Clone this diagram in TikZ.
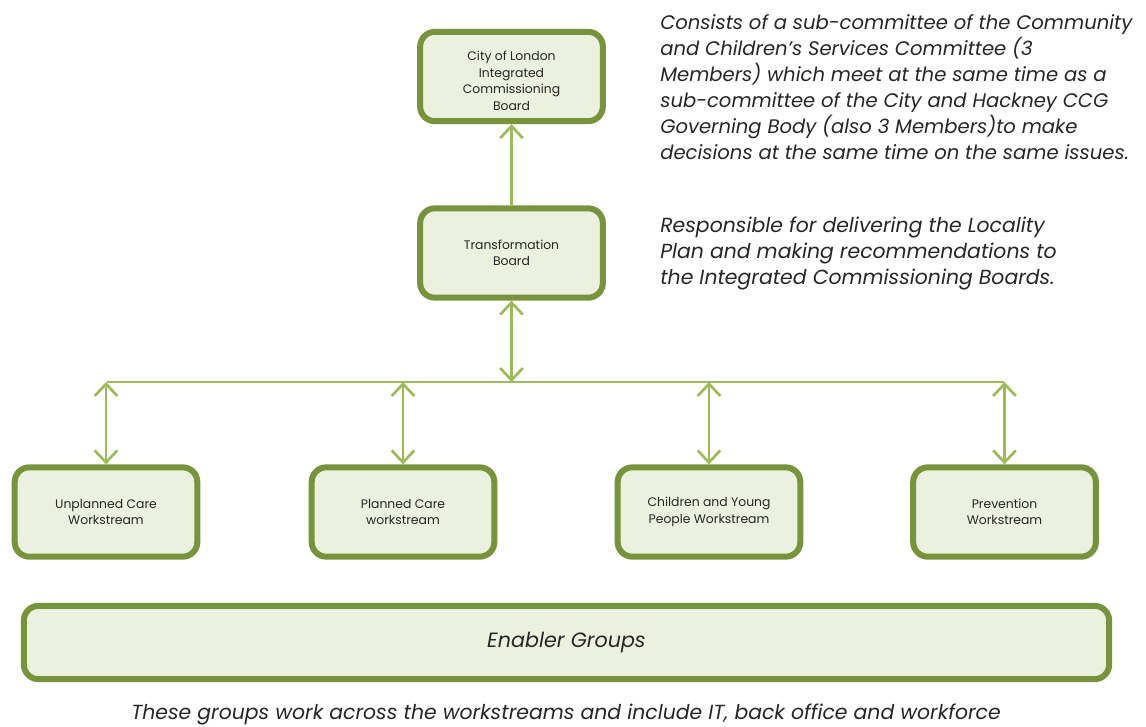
\documentclass[tikz,border=0pt]{standalone}
\usepackage{fontspec}
\setmainfont{Poppins}
\usetikzlibrary{arrows.meta}
\definecolor{boxline}{HTML}{77933C}
\definecolor{boxfill}{HTML}{EBF1DE}
\definecolor{conn}{HTML}{9BBB59}
\definecolor{txt}{HTML}{262626}
\begin{document}
\begin{tikzpicture}[x=0.75pt,y=-0.75pt,
  box/.style={draw=boxline, fill=boxfill, line width=4.5pt, rounded corners=11pt,
    minimum width=137pt, minimum height=67pt, align=center, inner sep=0pt,
    font=\fontsize{9.3}{12.4}\selectfont, text=txt},
  link/.style={draw=conn, line width=2pt},
  tip/.style={-{Straight Barb[length=9pt,width=17pt,line width=2pt]}},
  dtip/.style={{Straight Barb[length=9pt,width=17pt,line width=2pt]}-{Straight Barb[length=9pt,width=17pt,line width=2pt]}},
  note/.style={align=left, inner sep=0pt, anchor=north west, font=\fontsize{15.3}{19.5}\selectfont\itshape, text=txt}]
\useasboundingbox (0,0) rectangle (1146,726);
% boxes
\node[box] (icb) at (511.5,76.5) {};
\begin{scope}
  \clip (421,32) rectangle (602,110);
  \node[box, draw=none, fill=none] (icbt) at (511.5,81) {City of London\\Integrated\\Commissioning\\Board};
\end{scope}
\node[box] (tb) at (511.5,253) {Transformation\\Board};
\node[box] (ws1) at (106,512) {Unplanned Care\\Workstream};
\node[box] (ws2) at (403,512) {Planned Care\\workstream};
\node[box] (ws3) at (709,512) {Children and Young\\People Workstream};
\node[box] (ws4) at (1004.5,512) {Prevention\\Workstream};
\node[box, minimum width=814pt, minimum height=55pt, font=\fontsize{15.5}{18}\selectfont\itshape] (en) at (566.5,642.5) {Enabler Groups};
% bus
\coordinate (bl) at (107,382);
\coordinate (br) at (1004,382);
\coordinate (bm) at (tb.south |- bl);
\draw[link] (bl) -- (br);
\draw[link,tip] (tb.north) -- (icb.south);
\draw[link,dtip] (tb.south) -- (bm);
\coordinate (b1) at (ws1.north |- bl);
\coordinate (b2) at (ws2.north |- bl);
\coordinate (b3) at (ws3.north |- bl);
\coordinate (b4) at (ws4.north |- bl);
\draw[link,dtip] (b1) -- (ws1.north);
\draw[link,dtip] (b2) -- (ws2.north);
\draw[link,dtip] (b3) -- (ws3.north);
\draw[link,dtip] (b4) -- (ws4.north);
% notes
\node[note, font=\fontsize{14.7}{19.5}\selectfont\itshape] (n1) at (660,14) {Consists of a sub-committee of the Community\\and Children’s Services Committee (3\\Members) which meet at the same time as a\\sub-committee of the City and Hackney CCG\\Governing Body (also 3 Members)to make\\decisions at the same time on the same issues.};
\node[note] (n2) at (660,217) {Responsible for delivering the Locality\\Plan and making recommendations to\\the Integrated Commissioning Boards.};
\node[note, anchor=base] (n3) at (566,719) {These groups work across the workstreams and include IT, back office and workforce};
\end{tikzpicture}
\end{document}
